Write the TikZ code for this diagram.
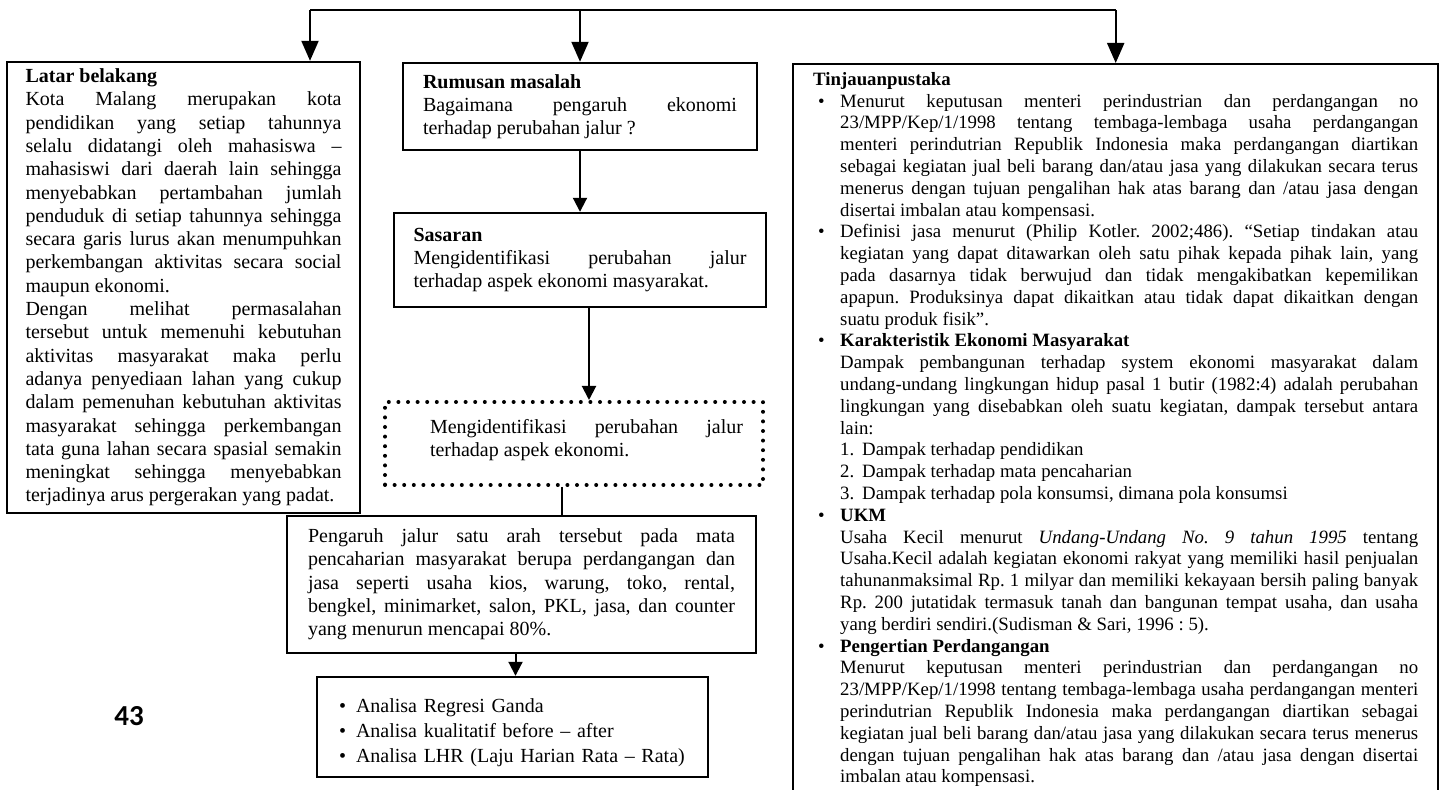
\documentclass[tikz,border=0pt]{standalone}
\usepackage{fontspec}
\setmainfont{Liberation Serif}
\newfontfamily\pagenumfont{Carlito}
\usepackage{enumitem}
\usetikzlibrary{arrows.meta,positioning}
\frenchspacing

\begin{document}
\begin{tikzpicture}[x=0.5pt,y=-0.5pt,>={Triangle[length=7pt,width=7pt]},line width=1pt]
  \tikzstyle{box}=[rectangle,draw=black,line width=1.2pt,fill=white,align=justify,
                   font=\fontsize{10}{11.65}\selectfont]
  \tikzstyle{dotbox}=[rectangle,draw=black,line width=2pt,dash pattern=on 0pt off 4.8pt,line cap=round]
  \tikzstyle{plain}=[align=justify,inner sep=0pt,font=\fontsize{10}{11.65}\selectfont]
  \tikzstyle{bigtip}=[-{Triangle[length=10pt,width=8.5pt]}]

  \useasboundingbox (0,0) rectangle (1440,790);

  \node[box,text width=158pt,inner xsep=9.25pt,minimum height=224.5pt] (lat) at (183.5,287.5)
    {\textbf{Latar belakang}\\
     Kota Malang merupakan kota\linebreak
     pendidikan yang setiap tahunnya\linebreak
     selalu didatangi oleh mahasiswa --\linebreak
     mahasiswi dari daerah lain sehingga\linebreak
     menyebabkan pertambahan jumlah\linebreak
     penduduk di setiap tahunnya sehingga\linebreak
     secara garis lurus akan menumpuhkan\linebreak
     perkembangan aktivitas secara social\linebreak
     maupun ekonomi.\\
     Dengan melihat permasalahan\linebreak
     tersebut untuk memenuhi kebutuhan\linebreak
     aktivitas masyarakat maka perlu\linebreak
     adanya penyediaan lahan yang cukup\linebreak
     dalam pemenuhan kebutuhan aktivitas\linebreak
     masyarakat sehingga perkembangan\linebreak
     tata guna lahan secara spasial semakin\linebreak
     meningkat sehingga menyebabkan\linebreak
     terjadinya arus pergerakan yang padat.};

  \node[box,text width=157pt,inner xsep=10pt,minimum height=43.5pt] (rum) at (580,106.5)
    {\textbf{Rumusan masalah}\\
     Bagaimana pengaruh ekonomi\linebreak
     terhadap perubahan jalur~?};
  \node[box,text width=166.5pt,inner xsep=9.75pt,minimum height=47pt] (sas) [below of=rum,node distance=76.75pt]
    {\textbf{Sasaran}\\
     Mengidentifikasi perubahan jalur\linebreak
     terhadap aspek ekonomi masyarakat.};
  \node[dotbox,minimum width=189pt,minimum height=41.5pt] (dot) at (574,443.5) {};
  \node[plain,text width=156.5pt] (dottext) at (586.5,440)
    {Mengidentifikasi perubahan jalur\linebreak
     terhadap aspek ekonomi.};
  \node[box,text width=213.5pt,inner xsep=10.5pt,minimum height=68.5pt] (pen) at (521.5,584.5)
    {Pengaruh jalur satu arah tersebut pada mata\linebreak
     pencaharian masyarakat berupa perdangangan dan\linebreak
     jasa seperti usaha kios, warung, toko, rental,\linebreak
     bengkel, minimarket, salon, PKL, jasa, dan counter\linebreak
     yang menurun mencapai 80\%.};
  \node[box,align=left,text width=178.5pt,inner xsep=8.5pt,minimum height=50pt,
        font=\fontsize{10}{12.6}\selectfont] (ana) at (512.5,727)
    {\begin{itemize}[nosep,leftmargin=11pt,labelsep=5pt]
       \item Analisa Regresi Ganda
       \item Analisa kualitatif before -- after
       \item Analisa LHR (Laju Harian Rata -- Rata)
     \end{itemize}};

  \node[box,anchor=north west,text width=302.5pt,inner xsep=10pt,inner ysep=4pt,
        font=\fontsize{9.4}{10.9}\selectfont] (tin) at (792,63)
    {\textbf{Tinjauanpustaka}
     \begin{itemize}[nosep,leftmargin=13.5pt,labelwidth=6pt,labelsep=5pt,align=left]
       \item Menurut keputusan menteri perindustrian dan perdangangan no\linebreak
         23/MPP/Kep/1/1998 tentang tembaga-lembaga usaha perdangangan\linebreak
         menteri perindutrian Republik Indonesia maka perdangangan diartikan\linebreak
         sebagai kegiatan jual beli barang dan/atau jasa yang dilakukan secara terus\linebreak
         menerus dengan tujuan pengalihan hak atas barang dan /atau jasa dengan\linebreak
         disertai imbalan atau kompensasi.
       \item Definisi jasa menurut (Philip Kotler. 2002;486). “Setiap tindakan atau\linebreak
         kegiatan yang dapat ditawarkan oleh satu pihak kepada pihak lain, yang\linebreak
         pada dasarnya tidak berwujud dan tidak mengakibatkan kepemilikan\linebreak
         apapun. Produksinya dapat dikaitkan atau tidak dapat dikaitkan dengan\linebreak
         suatu produk fisik”.
       \item \textbf{Karakteristik Ekonomi Masyarakat}\\
         Dampak pembangunan terhadap system ekonomi masyarakat dalam\linebreak
         undang-undang lingkungan hidup pasal 1 butir (1982:4) adalah perubahan\linebreak
         lingkungan yang disebabkan oleh suatu kegiatan, dampak tersebut antara\linebreak
         lain:
         \begin{enumerate}[nosep,leftmargin=11pt,labelsep=4pt]
           \item Dampak terhadap pendidikan
           \item Dampak terhadap mata pencaharian
           \item Dampak terhadap pola konsumsi, dimana pola konsumsi
         \end{enumerate}
       \item \textbf{UKM}\\
         Usaha Kecil menurut \textit{Undang-Undang No. 9 tahun 1995} tentang\linebreak
         Usaha.Kecil adalah kegiatan ekonomi rakyat yang memiliki hasil penjualan\linebreak
         tahunanmaksimal Rp. 1 milyar dan memiliki kekayaan bersih paling banyak\linebreak
         Rp. 200 jutatidak termasuk tanah dan bangunan tempat usaha, dan usaha\linebreak
         yang berdiri sendiri.(Sudisman \& Sari, 1996 : 5).
       \item \textbf{Pengertian Perdangangan}\\
         Menurut keputusan menteri perindustrian dan perdangangan no\linebreak
         23/MPP/Kep/1/1998 tentang tembaga-lembaga usaha perdangangan menteri\linebreak
         perindutrian Republik Indonesia maka perdangangan diartikan sebagai\linebreak
         kegiatan jual beli barang dan/atau jasa yang dilakukan secara terus menerus\linebreak
         dengan tujuan pengalihan hak atas barang dan /atau jasa dengan disertai\linebreak
         imbalan atau kompensasi.
     \end{itemize}};

  \node[font=\pagenumfont\bfseries\fontsize{14.5}{16}\selectfont] (pnum) at (129,716) {43};

  % connectors
  \coordinate (tl) at (310,10);
  \coordinate (tr) at (tin.north |- tl);
  \coordinate (sasout) at ([xshift=4.5pt]sas.south);
  \coordinate (dotout) at ([xshift=-6pt]dot.south);
  \coordinate (penout) at ([xshift=-3pt]pen.south);
  \draw (tl) -- (tr);
  \draw[bigtip] (tl) -- (tl |- lat.north);
  \draw[bigtip] (rum.north |- tl) -- (rum.north);
  \draw[bigtip] (tr) -- (tin.north);
  \draw[->] (rum.south) -- (rum.south |- sas.north);
  \draw[->] (sasout) -- (sasout |- dot.north);
  \draw (dotout) -- (dotout |- pen.north);
  \draw[->] (penout) -- (penout |- ana.north);
\end{tikzpicture}
\end{document}
